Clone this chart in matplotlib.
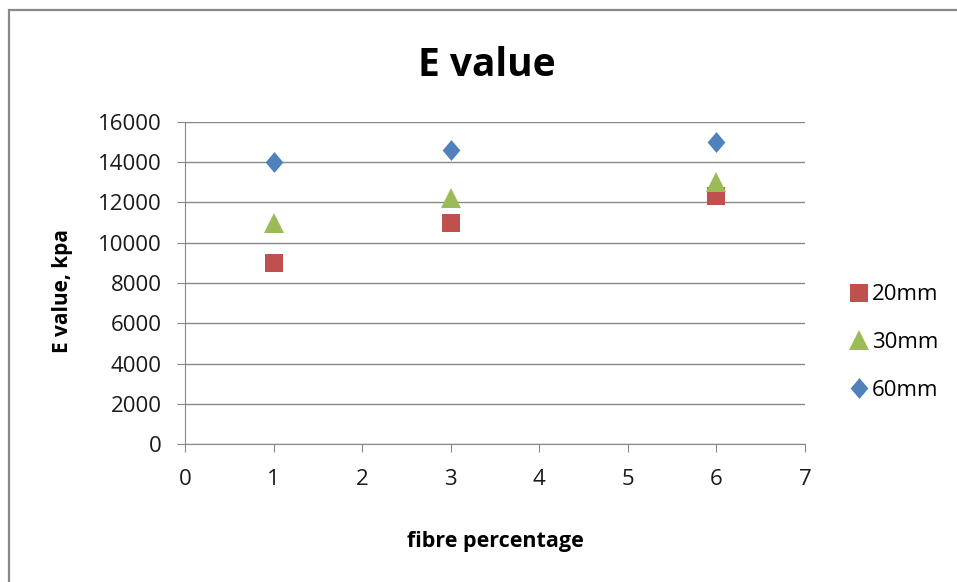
import matplotlib
matplotlib.use("Agg")
import matplotlib.pyplot as plt
from matplotlib.patches import Rectangle
from matplotlib.path import Path

fibre = [1, 3, 6]
e_20mm = [9000, 11000, 12300]
e_30mm = [11000, 12200, 13000]
e_60mm = [14000, 14600, 15000]
series_labels = ["20mm", "30mm", "60mm"]

plt.rcParams['font.family'] = ['Open Sans', 'DejaVu Sans']

W, H = 957, 582
fig = plt.figure(figsize=(W / 100, H / 100), dpi=100)
# outer chart frame (only left and top edges are visible in the reference)
fig.patches.append(Rectangle((9 / W, -20 / H), 1.1, 1 + 10 / H, transform=fig.transFigure,
                             fill=False, edgecolor='#888888', linewidth=1.6))
ax = fig.add_axes([185 / W, 138 / H, 620 / W, 322 / H])

diamond = Path([(0, 1), (0.85, 0), (0, -1), (-0.85, 0), (0, 1)],
               [Path.MOVETO, Path.LINETO, Path.LINETO, Path.LINETO, Path.CLOSEPOLY])

ax.plot(fibre, e_20mm, linestyle='none', marker='s', markersize=13, color='#C0504D',
        markeredgewidth=0, label=series_labels[0])
ax.plot(fibre, e_30mm, linestyle='none', marker='^', markersize=15, color='#9BBB59',
        markeredgewidth=0, label=series_labels[1])
ax.plot(fibre, e_60mm, linestyle='none', marker=diamond, markersize=15, color='#4F81BD',
        markeredgewidth=0, label=series_labels[2])

ax.set_xlim(0, 7)
ax.set_ylim(0, 16000)
ax.set_xticks(range(0, 8))
ax.set_yticks(range(0, 16001, 2000))
ax.yaxis.grid(True, color='#888888', linewidth=1)
ax.set_axisbelow(True)
for s in ['top', 'right']:
    ax.spines[s].set_visible(False)
for s in ['left', 'bottom']:
    ax.spines[s].set_color('#888888')
ax.tick_params(axis='both', colors='#888888', labelcolor='#1a1a1a', labelsize=16,
               length=6, direction='out')
ax.tick_params(axis='x', pad=12)
ax.tick_params(axis='y', pad=11)

ax.set_xlabel('fibre percentage', fontsize=15.5, fontweight='bold')
ax.set_ylabel('E value, kpa', fontsize=15, fontweight='bold')
ax.xaxis.set_label_coords(0.5, -0.27)
ax.yaxis.set_label_coords(-0.18, 0.475)
fig.text(487 / W, 1 - 65 / H, 'E value', ha='center', va='center', fontsize=28, fontweight='bold')

leg = ax.legend(loc='center left', bbox_to_anchor=(1.04, 0.315), frameon=False, fontsize=16,
                handletextpad=0.2, labelspacing=1.2, handlelength=0.8)

fig.savefig('out.png', dpi=100)
